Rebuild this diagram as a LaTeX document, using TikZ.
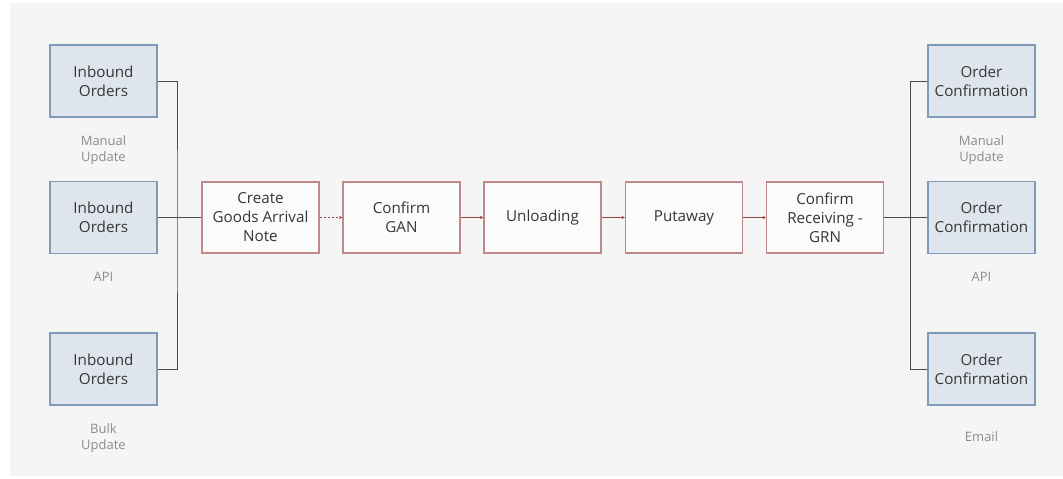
\documentclass[tikz,border=0pt]{standalone}
\usepackage{fontspec}
\setmainfont{Open Sans}
\usetikzlibrary{arrows.meta}

\definecolor{pagegray}{HTML}{F5F5F5}
\definecolor{srcfill}{HTML}{DFE5EC}
\definecolor{srcline}{HTML}{7F9AB6}
\definecolor{stepline}{HTML}{C08888}
\definecolor{flowred}{HTML}{98464A}
\definecolor{boxtext}{HTML}{363636}
\definecolor{notetext}{HTML}{8C8C8C}
\definecolor{linkgray}{HTML}{4A4A4A}

\begin{document}
\begin{tikzpicture}[x=1pt,y=-1pt,
  srcbox/.style={draw=srcline,fill=srcfill,line width=1.1pt,minimum width=107pt,minimum height=72pt,
    align=center,text=boxtext,font=\fontsize{15.2}{19}\selectfont},
  stepbox/.style={draw=stepline,fill=pagegray!40!white,line width=1.1pt,minimum width=117pt,minimum height=71pt,
    align=center,text=boxtext,font=\fontsize{15.2}{19}\selectfont},
  note/.style={align=center,text=notetext,font=\fontsize{13}{16}\selectfont},
  link/.style={draw=linkgray,line width=1pt},
  flow/.style={draw=flowred,line width=0.8pt,-{Stealth[length=3.5pt,width=3.5pt]}}]

% page
\fill[white] (0,0) rectangle (1063,479);
\fill[pagegray] (10,3) rectangle (1063,476);
\useasboundingbox (0,0) rectangle (1063,479);

% inbound sources
\node[srcbox] (in1) at (103.5,81) {Inbound\\Orders};
\node[srcbox] (in2) at (103.5,217.5) {Inbound\\Orders};
\node[srcbox] (in3) at (103.5,369) {Inbound\\Orders};
\node[note] (n1) at (103.5,150) {Manual\\Update};
\node[note] (n2) at (103.5,277) {API};
\node[note] (n3) at (103.5,438) {Bulk\\Update};

% receiving steps
\node[stepbox] (gan) at (260.5,217.5) {Create\\Goods Arrival\\Note};
\node[stepbox] (cgan) at (401.5,217.5) {Confirm\\GAN};
\node[stepbox] (unl) at (542.5,217.5) {Unloading};
\node[stepbox] (put) at (684,217.5) {Putaway};
\node[stepbox] (grn) at (825,217.5) {Confirm\\Receiving -\\GRN};

% confirmations
\node[srcbox] (oc1) at (981.5,81) {Order\\Confirmation};
\node[srcbox] (oc2) at (981.5,217.5) {Order\\Confirmation};
\node[srcbox] (oc3) at (981.5,369) {Order\\Confirmation};
\node[note] (m1) at (981.5,150) {Manual\\Update};
\node[note] (m2) at (981.5,277) {API};
\node[note] (m3) at (981.5,437) {Email};

\coordinate (jl) at (177,217.5);
\coordinate (jr) at (910,217.5);

\draw[link] (in1.east) -| (jl) |- (in3.east);
\draw[link] (in2.east) -- (gan.west);
\draw[link] (oc1.west) -| (jr) |- (oc3.west);
\draw[link] (grn.east) -- (oc2.west);

\draw[flow,dash pattern=on 2pt off 2pt] (gan) -- (cgan);
\foreach \a/\b in {cgan/unl,unl/put,put/grn}
  \draw[flow] (\a) -- (\b);
\end{tikzpicture}
\end{document}
